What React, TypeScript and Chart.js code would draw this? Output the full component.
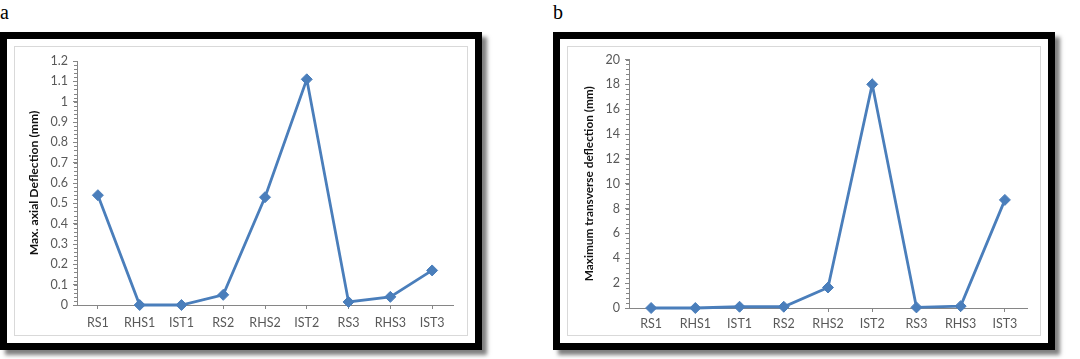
import React, { useEffect, useRef } from 'react';
import { Chart, registerables } from 'chart.js';

Chart.register(...registerables);

const categories = ['RS1', 'RHS1', 'IST1', 'RS2', 'RHS2', 'IST2', 'RS3', 'RHS3', 'IST3'];
const axialDeflection = [0.54, 0, 0, 0.05, 0.53, 1.11, 0.015, 0.04, 0.17];
const transverseDeflection = [0, 0, 0.1, 0.1, 1.65, 18, 0.05, 0.15, 8.7];
const axialTickLabels = ['0', '0.1', '0.2', '0.3', '0.4', '0.5', '0.6', '0.7', '0.8', '0.9', '1', '1.1', '1.2'];
const transverseTickLabels = ['0', '2', '4', '6', '8', '10', '12', '14', '16', '18', '20'];

const LINE_COLOR = '#4A7EBB';
const AXIS_COLOR = '#868686';
const TICK_COLOR = '#595959';

type PanelProps = {
  values: number[];
  yMax: number;
  yStep: number;
  minorStep: number;
  tickLabels: string[];
  title: string;
  titleSize: number;
  width: number;
  height: number;
  yWidth: number;
  xHeight: number;
  padTop: number;
  padRight: number;
  titlePad: number;
  labelPad: number;
};

const minorTicksPlugin = {
  id: 'minorTicks',
  afterDraw(chart: any, _args: any, opts: any) {
    const y = chart.scales.y;
    if (!y || !opts || !opts.step) return;
    const ctx = chart.ctx;
    ctx.save();
    ctx.strokeStyle = AXIS_COLOR;
    ctx.lineWidth = 1;
    const n = Math.round((y.max - y.min) / opts.step);
    for (let i = 0; i <= n; i++) {
      const v = y.min + i * opts.step;
      const py = Math.round(y.getPixelForValue(v)) + 0.5;
      ctx.beginPath();
      ctx.moveTo(y.right - 3, py);
      ctx.lineTo(y.right, py);
      ctx.stroke();
    }
    ctx.restore();
  },
};

function ChartPanel(p: PanelProps) {
  const ref = useRef<HTMLCanvasElement | null>(null);
  useEffect(() => {
    if (!ref.current) return;
    const chart = new Chart(ref.current, {
      type: 'line',
      data: {
        labels: categories,
        datasets: [
          {
            data: p.values,
            borderColor: LINE_COLOR,
            backgroundColor: LINE_COLOR,
            borderWidth: 2.8,
            pointStyle: 'rectRot',
            pointRadius: 5.5,
            pointBorderWidth: 1,
            pointBackgroundColor: LINE_COLOR,
            pointBorderColor: LINE_COLOR,
            tension: 0,
            clip: false as any,
          },
        ],
      },
      options: {
        animation: false,
        responsive: false,
        maintainAspectRatio: false,
        devicePixelRatio: 1,
        layout: { padding: { top: p.padTop, right: p.padRight, left: 0, bottom: 0 } },
        plugins: {
          legend: { display: false },
          tooltip: { enabled: false },
          minorTicks: { step: p.minorStep },
        } as any,
        scales: {
          x: {
            type: 'category',
            offset: true,
            grid: {
              display: true,
              offset: false,
              drawOnChartArea: false,
              drawTicks: true,
              tickLength: 4,
              tickColor: AXIS_COLOR,
            },
            border: { display: true, color: AXIS_COLOR, width: 1 },
            ticks: {
              color: TICK_COLOR,
              font: { family: 'Lato', size: 12.5 },
              padding: p.labelPad,
              maxRotation: 0,
              autoSkip: false,
            },
            afterFit(scale: any) {
              scale.height = p.xHeight;
            },
          },
          y: {
            type: 'linear',
            min: 0,
            max: p.yMax,
            grid: {
              display: true,
              drawOnChartArea: false,
              drawTicks: true,
              tickLength: 4,
              tickColor: AXIS_COLOR,
            },
            border: { display: true, color: AXIS_COLOR, width: 1 },
            ticks: {
              stepSize: p.yStep,
              color: TICK_COLOR,
              font: { family: 'Lato', size: 12.5 },
              padding: 5,
              callback: (_v: any, i: number) => p.tickLabels[i],
            },
            title: {
              display: true,
              text: p.title,
              color: '#111',
              font: { family: 'Lato', size: p.titleSize, weight: 'bold' },
              padding: { top: p.titlePad, bottom: 0 },
            },
            afterFit(scale: any) {
              scale.width = p.yWidth;
            },
          },
        },
      } as any,
      plugins: [minorTicksPlugin],
    });
    return () => chart.destroy();
  }, []);
  return <canvas ref={ref} width={p.width} height={p.height} style={{ display: 'block', width: p.width, height: p.height }} />;
}

function Frame(props: { left: number; width: number; children: React.ReactNode }) {
  return (
    <div
      style={{
        position: 'absolute',
        left: props.left,
        top: 32,
        width: props.width,
        height: 318,
        boxSizing: 'border-box',
        border: '7px solid #000',
        background: '#fff',
        boxShadow: '5px 5px 4px rgba(0,0,0,0.5)',
      }}
    >
      <div
        style={{
          position: 'absolute',
          left: 7,
          top: 7,
          width: props.width - 28,
          height: 290,
          boxSizing: 'border-box',
          border: '1px solid #d9d9d9',
        }}
      >
        {props.children}
      </div>
    </div>
  );
}

const letterStyle: React.CSSProperties = {
  position: 'absolute',
  top: 2,
  fontFamily: '"Liberation Serif", "DejaVu Serif", serif',
  fontSize: 20,
  lineHeight: '20px',
  color: '#000',
};

export default function App() {
  return (
    <div style={{ position: 'absolute', left: 0, top: 0, width: 1080, height: 359, background: '#fff', overflow: 'hidden' }}>
      <div style={{ ...letterStyle, left: 0 }}>a</div>
      <div style={{ ...letterStyle, left: 553 }}>b</div>
      <Frame left={0} width={482}>
        <ChartPanel
          values={axialDeflection}
          yMax={1.2}
          yStep={0.1}
          minorStep={0.02}
          tickLabels={axialTickLabels}
          title="Max. axial Deflection (mm)"
          titleSize={12.2}
          width={452}
          height={288}
          yWidth={62}
          xHeight={30}
          padTop={14}
          padRight={14}
          titlePad={12}
          labelPad={6}
        />
      </Frame>
      <Frame left={553} width={502}>
        <ChartPanel
          values={transverseDeflection}
          yMax={20}
          yStep={2}
          minorStep={0.4}
          tickLabels={transverseTickLabels}
          title="Maximum transverse deflection (mm)"
          titleSize={11.8}
          width={472}
          height={288}
          yWidth={61}
          xHeight={27}
          padTop={9}
          padRight={13}
          titlePad={14}
          labelPad={4}
        />
      </Frame>
    </div>
  );
}
